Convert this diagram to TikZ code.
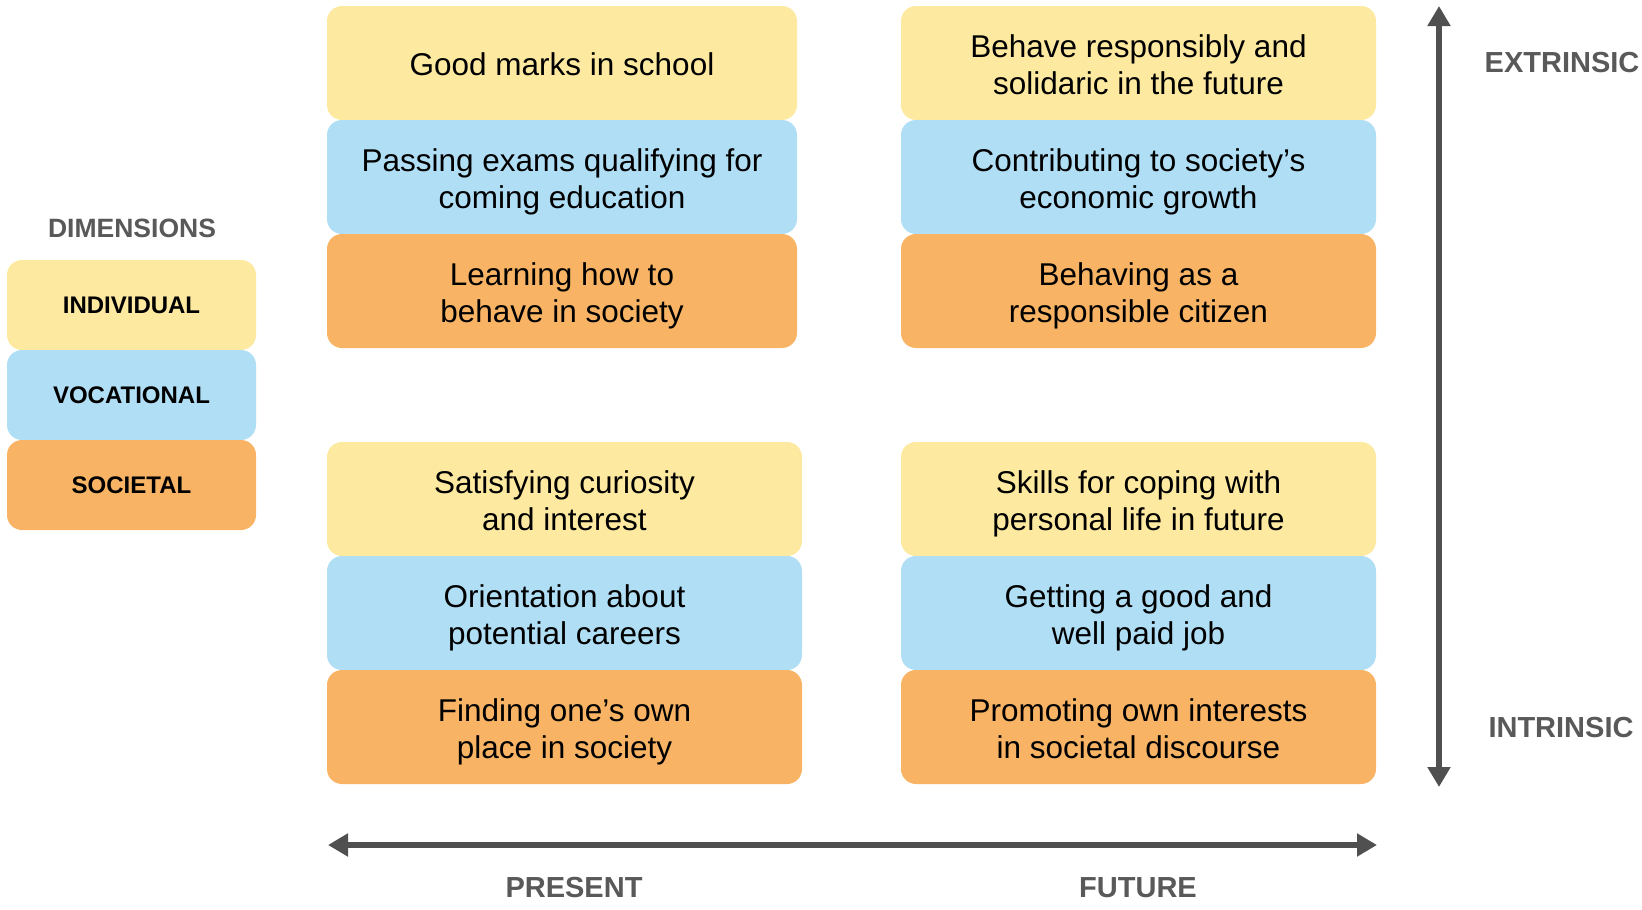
\documentclass[tikz,border=0pt]{standalone}
\usepackage{fontspec}
\setmainfont{Liberation Sans}
\usetikzlibrary{arrows.meta}
\definecolor{cyel}{RGB}{254,233,160}
\definecolor{cblu}{RGB}{176,222,245}
\definecolor{corg}{RGB}{248,180,100}
\definecolor{cax}{RGB}{80,80,80}
\definecolor{clab}{RGB}{89,89,89}
\tikzset{
  cell/.style={rounded corners=15pt, inner sep=0pt, minimum height=114pt},
  wcell/.style={cell, minimum width=475pt},
  ttext/.style={align=center, text=black, inner sep=0pt, font=\fontsize{31.5}{37}\selectfont,
    execute at begin node=\strut, execute at end node=\strut, yshift=-7pt},
  stext/.style={ttext, yshift=2pt},
  leg/.style={rounded corners=15pt, inner sep=0pt, align=center, text=black,
    font=\fontsize{24}{28}\selectfont\bfseries, minimum width=249pt, minimum height=90pt},
  axlabel/.style={text=clab, font=\fontsize{29}{33}\selectfont\bfseries, inner sep=0pt},
  axis/.style={draw=cax, line width=6.5pt, {Triangle[length=20pt,width=22pt]}-{Triangle[length=20pt,width=22pt]}}
}
\begin{document}
\begin{tikzpicture}[x=1pt,y=-1pt]
\useasboundingbox[fill=white] (0,0) rectangle (1642,910);
% top-left
\node[cell, fill=cyel, minimum width=470pt, label={[stext]center:{Good marks in school}}] (tl1) at (562,63) {};
\node[cell, fill=cblu, minimum width=470pt, label={[ttext]center:{Passing exams qualifying for\\coming education}}] (tl2) at (562,177) {};
\node[cell, fill=corg, minimum width=470pt, label={[ttext]center:{Learning how to\\behave in society}}] (tl3) at (562,291) {};
% top-right
\node[wcell, fill=cyel, label={[ttext]center:{Behave responsibly and\\solidaric in the future}}] (tr1) at (1138.5,63) {};
\node[wcell, fill=cblu, label={[ttext]center:{Contributing to society’s\\economic growth}}] (tr2) at (1138.5,177) {};
\node[wcell, fill=corg, label={[ttext]center:{Behaving as a\\responsible citizen}}] (tr3) at (1138.5,291) {};
% bottom-left
\node[wcell, fill=cyel, label={[ttext]center:{Satisfying curiosity\\and interest}}] (bl1) at (564.5,499) {};
\node[wcell, fill=cblu, label={[ttext]center:{Orientation about\\potential careers}}] (bl2) at (564.5,613) {};
\node[wcell, fill=corg, label={[ttext]center:{Finding one’s own\\place in society}}] (bl3) at (564.5,727) {};
% bottom-right
\node[wcell, fill=cyel, label={[ttext]center:{Skills for coping with\\personal life in future}}] (br1) at (1138.5,499) {};
\node[wcell, fill=cblu, label={[ttext]center:{Getting a good and\\well paid job}}] (br2) at (1138.5,613) {};
\node[wcell, fill=corg, label={[ttext]center:{Promoting own interests\\in societal discourse}}] (br3) at (1138.5,727) {};
% legend
\node[text=clab, font=\fontsize{26.5}{30}\selectfont\bfseries, inner sep=0pt] (dim) at (132,228) {DIMENSIONS};
\node[leg, fill=cyel] (lind) at (131.5,305) {INDIVIDUAL};
\node[leg, fill=cblu] (lvoc) at (131.5,395) {VOCATIONAL};
\node[leg, fill=corg] (lsoc) at (131.5,485) {SOCIETAL};
% axes
\coordinate (vt) at (1439,6);
\coordinate (vb) at (1439,787);
\draw[axis] (vt) -- (vb);
\coordinate (hl) at (328,845);
\coordinate (hr) at (1377,845);
\draw[axis] (hl) -- (hr);
\node[axlabel] (ext) at (1562,63) {EXTRINSIC};
\node[axlabel] (int) at (1561,728) {INTRINSIC};
\node[axlabel] (pres) at (574,888) {PRESENT};
\node[axlabel] (fut) at (1138,888) {FUTURE};
\end{tikzpicture}
\end{document}
